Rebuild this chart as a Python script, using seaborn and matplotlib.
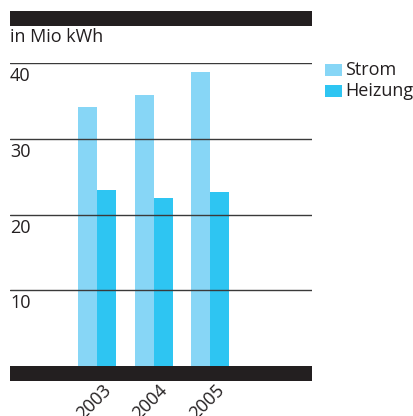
import numpy as np
import pandas as pd
import matplotlib
matplotlib.use("Agg")
import matplotlib.pyplot as plt
from matplotlib.patches import Rectangle
from matplotlib.transforms import ScaledTranslation
import seaborn as sns

years = ["2003", "2004", "2005"]
strom = [34.2, 35.8, 38.8]
heizung = [23.2, 22.2, 23.0]
yticks = [10, 20, 30, 40]

df = pd.DataFrame({
    "Jahr": years * 2,
    "Wert": strom + heizung,
    "Art": ["Strom"] * 3 + ["Heizung"] * 3,
})

sns.set_style("white")
plt.rcParams["font.family"] = ["Open Sans", "DejaVu Sans"]

W, H = 414, 416
fig = plt.figure(figsize=(W / 100, H / 100), dpi=100)
# axes: x 10..312 px, y 63 (40) .. 366 (0)
ax = fig.add_axes([10 / W, (H - 366) / H, 302 / W, 303 / H])

colors = {"Strom": "#87d6f6", "Heizung": "#2ec5f2"}
sns.barplot(data=df, x="Jahr", y="Wert", hue="Art", palette=colors,
            width=0.67, saturation=1, linewidth=0, ax=ax, legend=False)

ax.set_xlim(-1.54, 3.8)
ax.set_ylim(0, 40)
for s in ax.spines.values():
    s.set_visible(False)
ax.set_yticks([])
ax.set_xlabel("")
ax.set_ylabel("")

for v in yticks:
    ax.axhline(v, color="#3a3a3a", lw=1, zorder=5)
    ax.annotate(str(v), xy=(0, v), xycoords=ax.get_yaxis_transform(),
                xytext=(0, -3), textcoords="offset points",
                ha="left", va="top", fontsize=13, color="#231f20")

ax.tick_params(axis="x", length=0, pad=11)
plt.setp(ax.get_xticklabels(), rotation=45, ha="right", rotation_mode="anchor",
         fontsize=13, color="#231f20")
shift = ScaledTranslation(5 / 100, 0, fig.dpi_scale_trans)
for lbl in ax.get_xticklabels():
    lbl.set_transform(lbl.get_transform() + shift)

# black bands top and bottom
fig.add_artist(Rectangle((10 / W, (H - 26) / H), 302 / W, 15 / H,
                         transform=fig.transFigure, color="#231f20", lw=0))
fig.add_artist(Rectangle((10 / W, (H - 381) / H), 302 / W, 15 / H,
                         transform=fig.transFigure, color="#231f20", lw=0))

fig.text(10 / W, (H - 28) / H, "in Mio kWh", ha="left", va="top",
         fontsize=13, color="#231f20")

# legend
for i, name in enumerate(["Strom", "Heizung"]):
    y = H - 64 - i * 21
    fig.add_artist(Rectangle((325 / W, (y - 12) / H), 17 / W, 12 / H,
                             transform=fig.transFigure, color=colors[name], lw=0))
    fig.text(345 / W, (y - 6) / H, name, ha="left", va="center",
             fontsize=13, color="#231f20")

fig.savefig("out.png", dpi=100)
